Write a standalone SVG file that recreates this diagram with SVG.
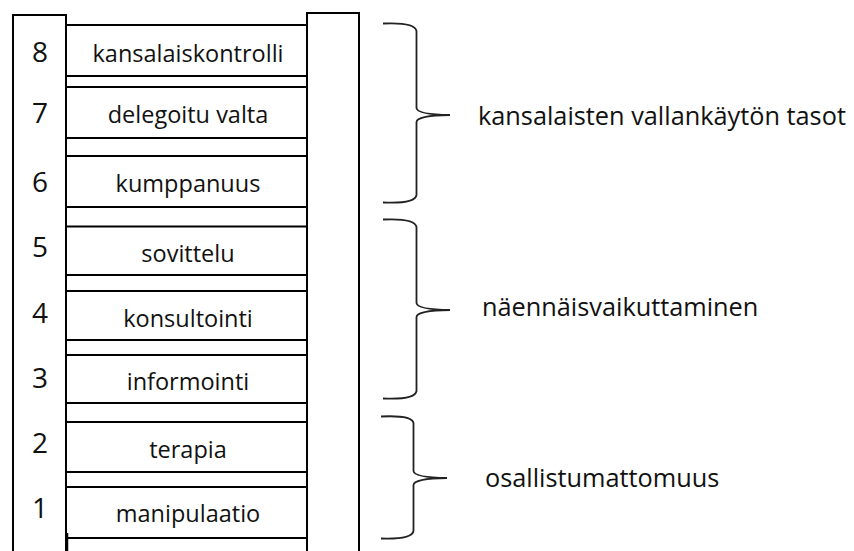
<svg xmlns="http://www.w3.org/2000/svg" width="854" height="551" viewBox="0 0 854 551">
  <style>
    .post { fill: none; stroke: #000; stroke-width: 2; }
    .rung { fill: #fff; stroke: #000; stroke-width: 2; }
    .num { font-family: "Open Sans", "Liberation Sans", sans-serif; font-size: 28px; fill: #111; text-anchor: middle; }
    .lbl { font-family: "Open Sans", "Liberation Sans", sans-serif; font-size: 23.5px; fill: #111; text-anchor: middle; }
    .grp { font-family: "Open Sans", "Liberation Sans", sans-serif; font-size: 25.3px; fill: #111; }
    .brace { fill: none; stroke: #222; stroke-width: 1.8; }
  </style>
  <rect width="854" height="551" fill="#fff"/>

  <!-- ladder posts -->
  <g id="post-left">
    <path class="post" d="M13,552 V15 H66 V552"/>
  </g>
  <g id="post-right">
    <path class="post" d="M307,552 V13 H359 V552"/>
  </g>

  <!-- rungs, top to bottom -->
  <g id="rung-8">
    <rect class="rung" x="66" y="25" width="241" height="51"/>
    <text class="num" x="40" y="62">8</text>
    <text class="lbl" x="188" y="62">kansalaiskontrolli</text>
  </g>
  <g id="rung-7">
    <rect class="rung" x="66" y="87" width="241" height="51"/>
    <text class="num" x="40" y="123">7</text>
    <text class="lbl" x="188" y="123">delegoitu valta</text>
  </g>
  <g id="rung-6">
    <rect class="rung" x="66" y="156" width="241" height="51"/>
    <text class="num" x="40" y="192">6</text>
    <text class="lbl" x="188" y="192">kumppanuus</text>
  </g>
  <g id="rung-5">
    <rect class="rung" x="66" y="226.5" width="241" height="48.5"/>
    <text class="num" x="40" y="257">5</text>
    <text class="lbl" x="188" y="262">sovittelu</text>
  </g>
  <g id="rung-4">
    <rect class="rung" x="66" y="291" width="241" height="49"/>
    <text class="num" x="40" y="323">4</text>
    <text class="lbl" x="188" y="327">konsultointi</text>
  </g>
  <g id="rung-3">
    <rect class="rung" x="66" y="355" width="241" height="48"/>
    <text class="num" x="40" y="388">3</text>
    <text class="lbl" x="188" y="390">informointi</text>
  </g>
  <g id="rung-2">
    <rect class="rung" x="66" y="422" width="241" height="50"/>
    <text class="num" x="40" y="453">2</text>
    <text class="lbl" x="188" y="458">terapia</text>
  </g>
  <g id="rung-1">
    <rect class="rung" x="66" y="487" width="241" height="51"/>
    <text class="num" x="40" y="518">1</text>
    <text class="lbl" x="188" y="522">manipulaatio</text>
    <line x1="67.5" y1="533" x2="67.5" y2="552" stroke="#000" stroke-width="1.5"/>
  </g>

  <!-- grouping braces with their captions -->
  <g id="group-citizen-power">
    <path class="brace" d="M383,23.5 Q415,22 416.5,31 L416.5,108 Q417,114.5 450,115 Q417,115.5 416.5,122 L416.5,195 Q415,204 383,202.5"/>
    <text class="grp" x="478" y="125">kansalaisten vallankäytön tasot</text>
  </g>
  <g id="group-tokenism">
    <path class="brace" d="M383,219.5 Q415,218 416.5,227 L416.5,303 Q417,309.5 450,310 Q417,310.5 416.5,317 L416.5,391 Q415,400 383,398.5"/>
    <text class="grp" x="482" y="316">näennäisvaikuttaminen</text>
  </g>
  <g id="group-nonparticipation">
    <path class="brace" d="M381,416.5 Q412,415 413.5,423 L413.5,471 Q414,477.5 447,478 Q414,478.5 413.5,485 L413.5,531 Q412,539.5 381,538.5"/>
    <text class="grp" x="485" y="487">osallistumattomuus</text>
  </g>
</svg>
